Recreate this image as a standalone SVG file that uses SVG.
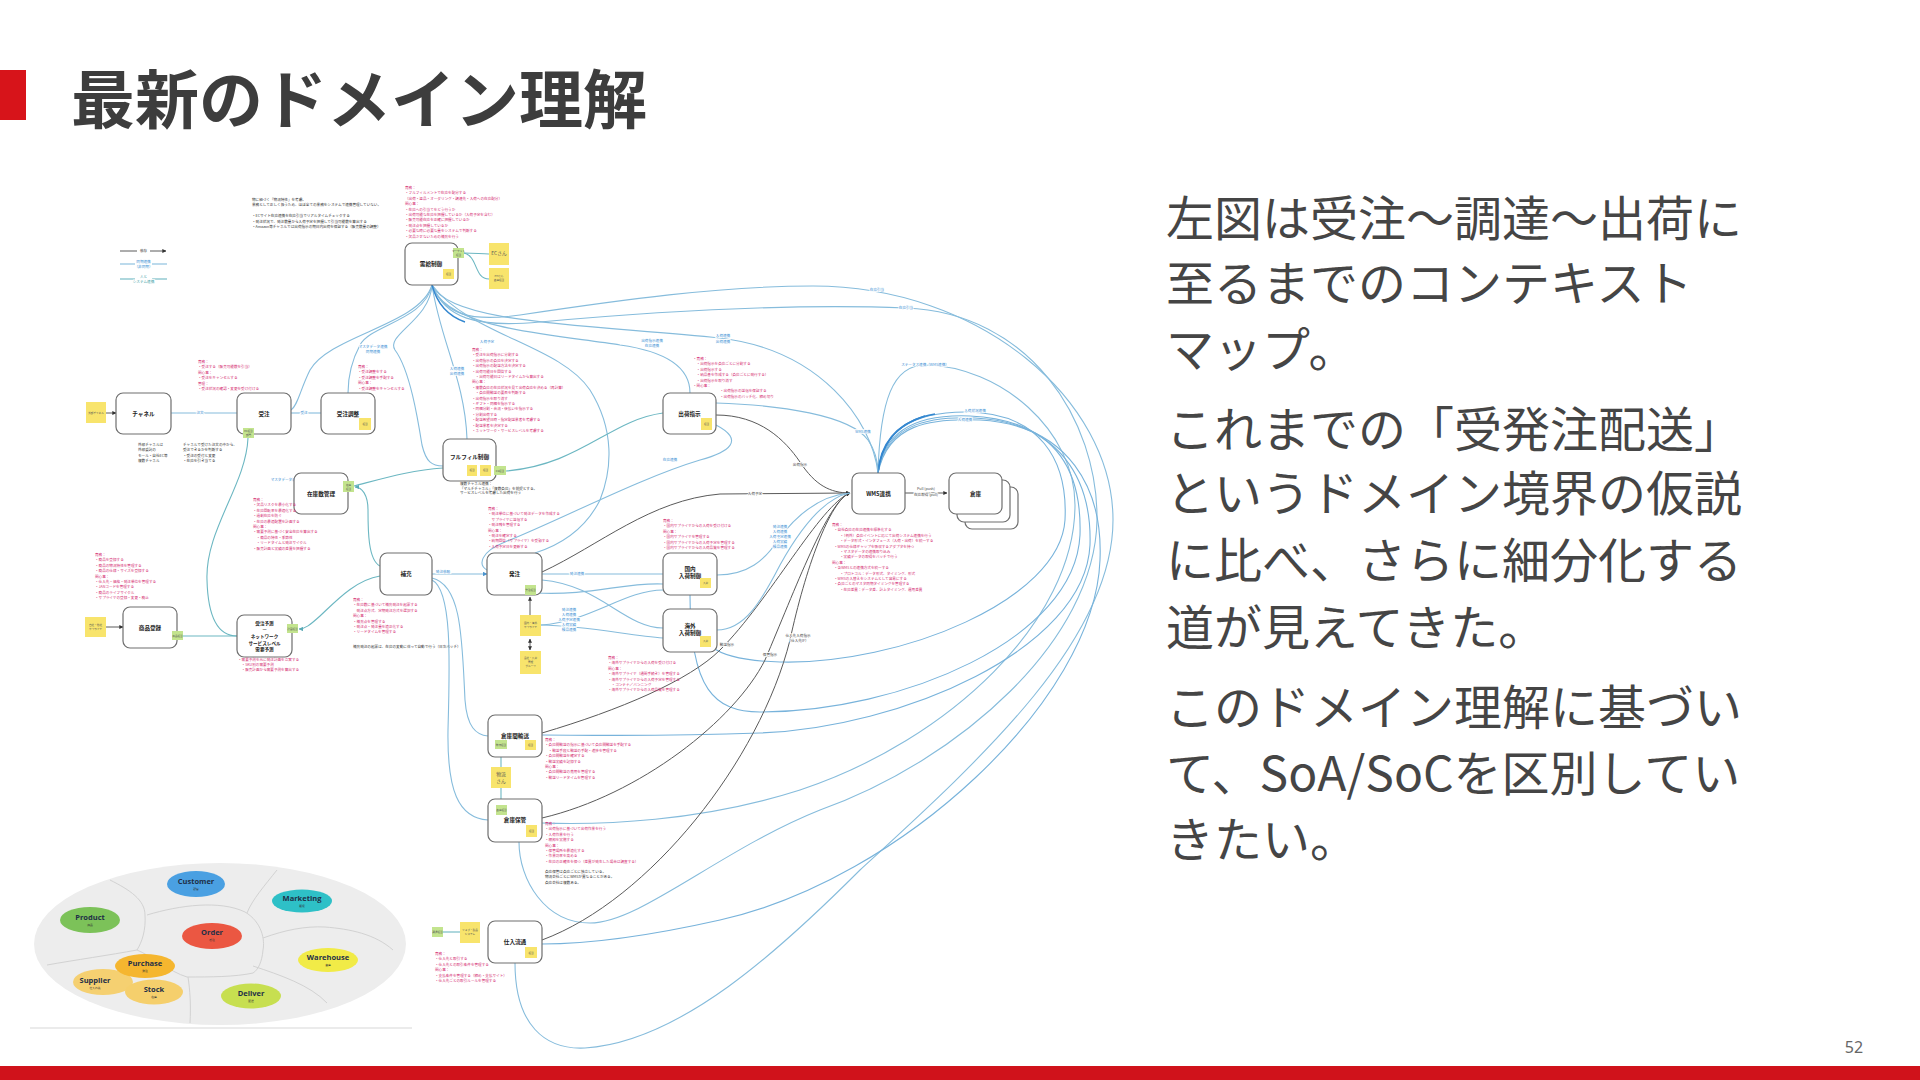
<svg xmlns="http://www.w3.org/2000/svg" width="1920" height="1080" viewBox="0 0 1920 1080">
<style>
text{font-family:"Noto Sans CJK JP","Noto Sans",sans-serif}
.title{font-size:64px;font-weight:bold;fill:#3d3d3d}
.body{font-size:48px;fill:#454545}
.box{fill:#fff;stroke:#6e6e6e;stroke-width:1.2}
.nl{font-size:5.6px;font-weight:bold;fill:#222;text-anchor:middle}
.sy{fill:#f8e46c}
.sg{fill:#c3e48e}
.st{font-size:2.6px;fill:#555;text-anchor:middle}
.pk{font-size:3.6px;fill:#d42a70}
.bk{font-size:3.6px;fill:#333}
.bl{font-size:3.6px;fill:#3b8fd4;text-anchor:middle;stroke:#fff;stroke-width:1.4px;paint-order:stroke}
.dl{font-size:3.6px;fill:#444;text-anchor:middle;stroke:#fff;stroke-width:1.4px;paint-order:stroke}
.cb{fill:none;stroke:#86bcdc;stroke-width:1.1}
.cB{fill:none;stroke:#78b3db;stroke-width:1.1}
.cH{fill:none;stroke:#3487d0;stroke-width:1.4}
.ct{fill:none;stroke:#6cb7c2;stroke-width:1.1}
.cd{fill:none;stroke:#5a5a5a;stroke-width:1}
.ov{font-family:"Open Sans",sans-serif;font-size:7.5px;font-weight:bold;fill:#1f2f47;text-anchor:middle}
.ovs{font-size:2.8px;fill:#333;text-anchor:middle}
.div{fill:none;stroke:#d2d2d2;stroke-width:1}
</style>
<defs>
<marker id="ah" viewBox="0 0 6 6" refX="5.5" refY="3" markerWidth="4" markerHeight="4" orient="auto"><path d="M0,0 L6,3 L0,6 z" fill="#333"/></marker>
<marker id="ahb" viewBox="0 0 6 6" refX="5.5" refY="3" markerWidth="4" markerHeight="4" orient="auto"><path d="M0,0 L6,3 L0,6 z" fill="#4a94cf"/></marker>
<marker id="aht" viewBox="0 0 6 6" refX="5.5" refY="3" markerWidth="4" markerHeight="4" orient="auto"><path d="M0,0 L6,3 L0,6 z" fill="#5aaab6"/></marker>
<marker id="ahs" viewBox="0 0 6 6" refX="0.5" refY="3" markerWidth="4" markerHeight="4" orient="auto"><path d="M6,0 L0,3 L6,6 z" fill="#333"/></marker>
</defs>
<rect width="1920" height="1080" fill="#fff"/>

<!-- Title -->
<g id="title">
<rect x="0" y="70" width="26" height="50" fill="#d7141a"/>
<text class="title" x="71" y="123">最新のドメイン理解</text>
</g>

<!-- Body text -->
<g id="body-text">
<text class="body" x="1166" y="236">左図は受注〜調達〜出荷に</text>
<text class="body" x="1166" y="301">至るまでのコンテキスト</text>
<text class="body" x="1166" y="367">マップ。</text>
<text class="body" x="1166" y="447">これまでの「受発注配送」</text>
<text class="body" x="1166" y="511">というドメイン境界の仮説</text>
<text class="body" x="1166" y="578">に比べ、さらに細分化する</text>
<text class="body" x="1166" y="645">道が見えてきた。</text>
<text class="body" x="1166" y="725">このドメイン理解に基づい</text>
<text class="body" x="1166" y="791">て、SoA/SoCを区別してい</text>
<text class="body" x="1166" y="857">きたい。</text>
</g>

<!-- Connectors -->
<g id="connectors">
<path class="cb" d="M171,413 L237,413"/>
<path class="cb" d="M291,413 L321,413"/>
<path class="cd" d="M106,413 L116,413" marker-end="url(#ah)"/>
<path class="cb" d="M432,285 C425,320 370,325 360,345 C352,360 348,375 348,393"/>
<path class="cb" d="M432,285 C420,325 330,335 310,370 C300,390 298,405 291,410"/>
<path class="cb" d="M432,285 C430,320 385,335 395,350 C410,370 418,420 422,445 C426,462 432,466 443,466"/>
<path class="cb" d="M432,285 C440,340 465,380 467,439"/>
<path class="cb" d="M432,285 C445,330 560,335 620,345 C670,352 690,370 690,393"/>
<path class="cb" d="M432,285 C450,325 600,325 720,338 C820,350 872,420 878,473"/>
<path class="cb" d="M432,285 C445,315 470,322 520,315 C620,300 720,286 813,286 C980,286 1113,400 1113,520 C1113,640 980,760 860,870 C780,950 680,1042 585,1048 C545,1050 515,1025 515,963"/>
<path class="cb" d="M432,285 C445,318 475,328 540,322 C650,312 780,303 906,308 C1030,313 1098,420 1097,520 C1095,640 960,760 820,810 C720,850 640,923 590,923 C545,923 519,880 519,842"/>
<path class="cb" d="M432,285 C470,335 560,345 590,390 C615,430 612,470 600,500 C585,530 560,545 535,553"/>
<path class="cH" d="M432,285 C436,300 445,315 465,322"/>
<path class="cb" d="M878,473 C880,400 893,365 925,365 C1000,366 1075,430 1075,505 C1075,620 950,740 800,790 C700,822 600,825 542,823"/>
<path class="cB" d="M878,473 C882,430 915,412 965,412 C1040,412 1068,460 1065,520 C1060,600 900,665 780,662 C745,661 722,655 712,647"/>
<path class="cB" d="M878,473 C884,428 920,414 970,416 C1055,420 1082,470 1080,535 C1075,640 900,712 760,712 C715,712 690,690 690,595"/>
<path class="cB" d="M878,473 C886,426 925,416 975,418 C1060,422 1092,480 1090,545 C1085,650 900,728 760,733 C650,737 580,735 542,735"/>
<path class="cB" d="M878,473 C888,424 930,418 980,420 C1070,425 1103,490 1100,560 C1095,700 900,880 720,920 C640,938 580,944 542,944"/>
<path class="cH" d="M878,473 C880,445 895,425 925,416"/>
<path class="cH" d="M878,473 C882,440 900,420 935,414"/>
<path class="cd" d="M716,415 C760,415 785,440 800,462 C815,485 830,493 850,493" marker-end="url(#ah)"/>
<path class="cd" d="M542,572 C600,545 650,500 720,494 L850,493" marker-end="url(#ah)"/>
<path class="cd" d="M542,733 C620,710 690,680 720,650 C770,600 820,505 850,493" marker-end="url(#ah)"/>
<path class="cd" d="M542,818 C640,795 735,720 765,660 C795,590 828,500 850,493" marker-end="url(#ah)"/>
<path class="cd" d="M542,940 C650,900 760,760 790,640 C805,570 830,500 850,493" marker-end="url(#ah)"/>
<path class="cb" d="M717,575 C748,575 765,560 778,540 C800,510 825,495 850,493"/>
<path class="cb" d="M717,630 C745,630 762,600 780,565 C805,520 828,497 850,493"/>
<path class="cb" d="M716,403 C780,405 850,415 868,440 C875,450 878,462 878,473"/>
<path class="cb" d="M716,425 C745,440 730,452 700,460 C640,478 560,520 505,542 C480,552 478,565 487,570"/>
<path class="ct" d="M663,413 C610,420 580,465 506,471"/>
<path class="cd" d="M905,493 L947,493" marker-end="url(#ah)"/>
<path class="cb" d="M432,574 L487,574" marker-end="url(#ahb)"/>
<path class="cb" d="M542,574 L663,574"/>
<path class="cb" d="M542,580 C600,585 625,628 663,628"/>
<path class="cb" d="M536,593 C590,596 625,582 663,584"/>
<path class="cb" d="M541,625 C590,622 625,590 663,590"/>
<path class="cb" d="M541,625 C590,626 630,636 663,638"/>
<path class="cd" d="M530,615 L530,597" marker-end="url(#ah)"/>
<path class="cd" d="M530,639 L530,650" marker-start="url(#ahs)" marker-end="url(#ah)"/>
<path class="ct" d="M380,566 C368,560 368,530 368,510 C368,495 362,487 355,487" marker-end="url(#aht)"/>
<path class="ct" d="M380,576 C355,580 335,602 320,616 C310,625 305,629 299,629" marker-end="url(#aht)"/>
<path class="cb" d="M432,578 C462,585 462,640 465,700 C467,727 476,735 488,736"/>
<path class="cb" d="M432,580 C452,590 450,660 448,730 C447,790 458,818 488,820"/>
<path class="ct" d="M354,486 C385,478 412,470 443,468"/>
<path class="ct" d="M248,438 C246,485 205,530 207,580 C208,620 220,636 237,636"/>
<path class="ct" d="M183,636 L237,636"/>
<path class="cd" d="M106,627 L123,627" marker-end="url(#ah)"/>
<path class="ct" d="M464,253 C476,253 480,254 489,254"/>
<path class="ct" d="M464,253 C478,256 474,279 489,279"/>
<path class="ct" d="M501,757 L501,767"/>
<path class="ct" d="M501,788 L501,805"/>
<path class="ct" d="M443,932 L460,932"/>
<!-- labels -->
<text class="bl" x="200" y="414">注文</text>
<text class="bl" x="304" y="414">受注</text>
<text class="bl" x="373" y="348">マスタデータ連携</text>
<text class="bl" x="373" y="353">同期連携</text>
<text class="bl" x="457" y="370">入荷連携</text>
<text class="bl" x="457" y="375">出荷連携</text>
<text class="bl" x="487" y="343">入荷予定</text>
<text class="bl" x="652" y="342">出荷指示連携</text>
<text class="bl" x="652" y="347">在庫連携</text>
<text class="bl" x="723" y="337">入荷連携</text>
<text class="bl" x="723" y="343">出荷連携</text>
<text class="bl" x="877" y="291">在庫引当</text>
<text class="bl" x="906" y="309">在庫引当</text>
<text class="bl" x="863" y="433">WMS連携</text>
<text class="bl" x="925" y="366">ステータス連携（WMS連携）</text>
<text class="bl" x="975" y="412">入荷状況連携</text>
<text class="bl" x="965" y="421">入荷連携</text>
<text class="bl" x="670" y="461">在庫連携</text>
<text class="bl" x="285" y="481">マスタデータ連携</text>
<text class="bl" x="443" y="573">発注依頼</text>
<text class="bl" x="577" y="575">発注連携</text>
<text class="bl" x="569" y="611">発注連携</text>
<text class="bl" x="569" y="616">入荷連携</text>
<text class="bl" x="569" y="621">入荷予定連携</text>
<text class="bl" x="569" y="626">入荷実績</text>
<text class="bl" x="569" y="631">検品連携</text>
<text class="bl" x="780" y="528">発注連携</text>
<text class="bl" x="780" y="533">入荷連携</text>
<text class="bl" x="780" y="538">入荷予定連携</text>
<text class="bl" x="780" y="543">入荷実績</text>
<text class="bl" x="780" y="548">検品連携</text>
<text class="dl" x="800" y="466">出荷指示</text>
<text class="dl" x="755" y="495">入荷予定</text>
<text class="dl" x="727" y="646">輸送指示</text>
<text class="dl" x="770" y="656">保管指示</text>
<text class="dl" x="798" y="637">仕入先入荷指示</text>
<text class="dl" x="798" y="642">（仕入先IF）</text>
<text class="dl" x="926" y="490">Pull (push)</text>
<text class="dl" x="926" y="496">在庫取得 (pull)</text>
</g>

<!-- Legend and notes -->
<g id="legend">
<path class="cd" d="M120,251 L137,251"/><path class="cd" d="M150,251 L166,251" marker-end="url(#ah)"/>
<text class="bk" x="143.5" y="252.3" text-anchor="middle">依存</text>
<path class="cb" d="M120,264 L135,264"/><path class="cb" d="M152,264 L167,264"/>
<text class="bl" x="143.5" y="263">同期連携</text>
<text class="bl" x="143.5" y="268">（非同期）</text>
<path class="ct" d="M120,279 L135,279"/><path class="ct" d="M152,279 L167,279"/>
<text class="bl" x="143.5" y="278" style="fill:#3fa3a8">人と</text>
<text class="bl" x="143.5" y="283" style="fill:#3fa3a8">システム連携</text>
</g>
<g id="note-top">
<text class="bk" x="252" y="201"><tspan x="252" dy="0">物に紐づく「物流特性」を考慮。</tspan><tspan x="252" dy="5.4">業務として正しく扱うため、ほぼ全ての業務をシステムで連携管理していない。</tspan><tspan x="252" dy="10.8">・ECサイト在庫連携を在庫引当でリアルタイムチェックする</tspan><tspan x="252" dy="5.4">・発注状況で、発注数量から入荷予定を把握して引当可能数を算出する</tspan><tspan x="252" dy="5.4">・Amazon等チャネルでは出荷指示の期日内出荷を保証する（販売数量の調整）</tspan></text>
</g>

<!-- Nodes -->
<g id="node-jukyu">
<text class="pk" x="405" y="189"><tspan x="405" dy="0">責務：</tspan><tspan x="405" dy="5.4">・フルフィルメントで在庫を配分する</tspan><tspan x="405" dy="5.4">（出荷・返品・オーダリング・調達先・入荷への在庫配分）</tspan><tspan x="405" dy="5.4">関心事：</tspan><tspan x="405" dy="5.4">・在庫への引当てをどう行うか</tspan><tspan x="405" dy="5.4">・出荷可能な在庫を把握しているか（入荷予定を含む）</tspan><tspan x="405" dy="5.4">・販売可能在庫を正確に把握しているか</tspan><tspan x="405" dy="5.4">・発注点を把握しているか</tspan><tspan x="405" dy="5.4">・必要な時に必要な量をシステムで判断する</tspan><tspan x="405" dy="5.4">・欠品させないための補充を行う</tspan></text>
<rect class="box" x="405" y="243" width="53" height="42" rx="7"/>
<text class="nl" x="431" y="266">需給制御</text>
<rect class="sg" x="453" y="248" width="11" height="10"/><text class="st" x="458.5" y="252">マーケット</text><text class="st" x="458.5" y="255.5">担当</text>
<rect class="sy" x="443" y="269" width="11" height="10"/><text class="st" x="448.5" y="275">担当</text>
<rect class="sy" x="489" y="243" width="20" height="22"/><text class="st" x="499" y="255" style="font-size:4.8px">ECさん</text>
<rect class="sy" x="489" y="268" width="20" height="21"/><text class="st" x="499" y="277">PMさん</text><text class="st" x="499" y="281">倉庫担当</text>
</g>

<g id="node-channel">
<rect class="sy" x="86" y="402" width="20" height="21"/><text class="st" x="96" y="414">外部チャネル</text>
<rect class="box" x="116" y="393" width="55" height="41" rx="7"/>
<text class="nl" x="143.5" y="415.5">チャネル</text>
<text class="bk" x="138" y="446"><tspan x="138" dy="0">外部チャネルは</tspan><tspan x="138" dy="5.4">外部委託の</tspan><tspan x="138" dy="5.4">モール・自社EC等</tspan><tspan x="138" dy="5.4">複数チャネル</tspan></text>
</g>

<g id="node-juchu">
<text class="pk" x="198" y="363"><tspan x="198" dy="0">責務：</tspan><tspan x="198" dy="5.4">・受注する（販売可能数を引当）</tspan><tspan x="198" dy="5.4">関心事：</tspan><tspan x="198" dy="5.4">・受注をキャンセルする</tspan><tspan x="198" dy="5.4">管理：</tspan><tspan x="198" dy="5.4">・受注状況の確認・変更を受け付ける</tspan></text>
<rect class="box" x="237" y="393" width="54" height="41" rx="7"/>
<text class="nl" x="264" y="415.5">受注</text>
<rect class="sg" x="243" y="428" width="11" height="10"/><text class="st" x="248.5" y="432">EC担当</text><text class="st" x="248.5" y="435.5">部門</text>
<text class="bk" x="183" y="446"><tspan x="183" dy="0">チャネルで受けた注文の中から、</tspan><tspan x="183" dy="5.4">受注できるかを判断する</tspan><tspan x="183" dy="5.4">・受注の受付と変更</tspan><tspan x="183" dy="5.4">・在庫を引き当てる</tspan></text>
</g>

<g id="node-chousei">
<text class="pk" x="358" y="368"><tspan x="358" dy="0">責務：</tspan><tspan x="358" dy="5.4">・受注調整をする</tspan><tspan x="358" dy="5.4">・受注調整を手配する</tspan><tspan x="358" dy="5.4">関心事：</tspan><tspan x="358" dy="5.4">・受注調整をキャンセルする</tspan></text>
<rect class="box" x="321" y="393" width="54" height="41" rx="7"/>
<text class="nl" x="348" y="415.5">受注調整</text>
<rect class="sy" x="359" y="418" width="12" height="12"/><text class="st" x="365" y="425">担当</text>
</g>

<g id="node-fulfil">
<text class="pk" x="472" y="351"><tspan x="472" dy="0">責務：</tspan><tspan x="472" dy="5.4">・受注を出荷指示に分割する</tspan><tspan x="472" dy="5.4">・出荷指示の倉庫を決定する</tspan><tspan x="472" dy="5.4">・出荷指示の配送方法を決定する</tspan><tspan x="472" dy="5.4">・出荷可能日を回答する</tspan><tspan x="472" dy="5.4">　・出荷可能日はリードタイムから算出する</tspan><tspan x="472" dy="5.4">関心事：</tspan><tspan x="472" dy="5.4">・複数倉庫の在庫状況を見て出荷倉庫を決める（再計算）</tspan><tspan x="472" dy="5.4">　・倉庫間輸送の要否を判断する</tspan><tspan x="472" dy="5.4">・出荷指示を取り消す</tspan><tspan x="472" dy="5.4">・ギフト・同梱を指示する</tspan><tspan x="472" dy="5.4">・同梱分割・合流・後払いを指示する</tspan><tspan x="472" dy="5.4">・分割出荷する</tspan><tspan x="472" dy="5.4">・配送希望日時・指定配送業者を考慮する</tspan><tspan x="472" dy="5.4">・配送業者を決定する</tspan><tspan x="472" dy="5.4">・ネットワーク・サービスレベルを考慮する</tspan></text>
<rect class="box" x="443" y="439" width="53" height="42" rx="7"/>
<text class="nl" x="469.5" y="459">フルフィル制御</text>
<rect class="sy" x="467" y="465" width="10" height="11"/><text class="st" x="472" y="471">担当</text>
<rect class="sy" x="480" y="465" width="11" height="11"/><text class="st" x="485.5" y="471">担当</text>
<rect class="sg" x="494" y="466" width="12" height="9"/><text class="st" x="500" y="471.5">CS担当</text>
<text class="bk" x="460" y="485"><tspan x="460" dy="0">複数チャネル連携：</tspan><tspan x="460" dy="4.6">「マルチチャネル」「複数倉庫」を前提とする。</tspan><tspan x="460" dy="4.6">サービスレベルを考慮した出荷を行う</tspan></text>
</g>

<g id="node-shukka">
<text class="pk" x="693" y="360"><tspan x="693" dy="0">・責務：</tspan><tspan x="693" dy="5.4">　・出荷指示を倉庫ごとに分割する</tspan><tspan x="693" dy="5.4">　・出荷指示する</tspan><tspan x="693" dy="5.4">　・納品書を作成する（倉庫ごとに発行する）</tspan><tspan x="693" dy="5.4">　・出荷指示を取り消す</tspan><tspan x="693" dy="5.4">・関心事：</tspan><tspan x="720" dy="5.4">・出荷指示の送信を保証する</tspan><tspan x="720" dy="5.4">・出荷指示のバッチ化、締め切り</tspan></text>
<rect class="box" x="663" y="393" width="53" height="41" rx="7"/>
<text class="nl" x="689.5" y="415.5">出荷指示</text>
<rect class="sy" x="701" y="418" width="11" height="12"/><text class="st" x="706.5" y="425">担当</text>
</g>

<g id="node-wms">
<rect class="box" x="852" y="473" width="53" height="41" rx="7"/>
<text class="nl" x="878.5" y="495.5">WMS連携</text>
<text class="pk" x="832" y="526"><tspan x="832" dy="0">責務：</tspan><tspan x="834" dy="5.4">・自社倉庫の在庫連携を標準化する</tspan><tspan x="840" dy="5.4">・（例外）倉庫イベントに応じて出荷システム連携を行う</tspan><tspan x="840" dy="5.4">・データ形式・インタフェース（入荷・出荷）を統一する</tspan><tspan x="834" dy="5.4">・WMSの仕様ギャップを吸収するアダプタを持つ</tspan><tspan x="840" dy="5.4">・マスタデータの連携取り込み</tspan><tspan x="840" dy="5.4">・実績データの取得をバッチで行う</tspan><tspan x="832" dy="5.4">関心事：</tspan><tspan x="834" dy="5.4">・各WMSとの連携方式を統一する</tspan><tspan x="840" dy="5.4">・プロトコル：データ形式、タイミング、形式</tspan><tspan x="834" dy="5.4">・WMSの入替えをシステムとして容易にする</tspan><tspan x="834" dy="5.4">・倉庫ごとのマスタ同期タイミングを管理する</tspan><tspan x="840" dy="5.4">・在庫差異：データ差、計上タイミング、運用差異</tspan></text>
</g>

<g id="node-souko">
<rect class="box" x="965" y="487" width="53" height="42" rx="7"/>
<rect class="box" x="957" y="480" width="53" height="42" rx="7"/>
<rect class="box" x="949" y="473" width="53" height="41" rx="7"/>
<text class="nl" x="975.5" y="495.5">倉庫</text>
</g>

<g id="node-zaiko">
<rect class="box" x="294" y="473" width="54" height="41" rx="7"/>
<text class="nl" x="321" y="495.5">在庫数管理</text>
<rect class="sg" x="343" y="481" width="11" height="11"/><text class="st" x="348.5" y="486">在庫</text><text class="st" x="348.5" y="489.5">担当</text>
<text class="pk" x="253" y="501"><tspan x="253" dy="0">責務：</tspan><tspan x="253" dy="5.4">・欠品リスクを最小化する</tspan><tspan x="253" dy="5.4">・在庫回転率を最適化する</tspan><tspan x="253" dy="5.4">・過剰在庫を防ぐ</tspan><tspan x="253" dy="5.4">・在庫の最適配置を計画する</tspan><tspan x="253" dy="5.4">関心事：</tspan><tspan x="253" dy="5.4">・需要予測に基づく安全在庫を算出する</tspan><tspan x="253" dy="5.4">　・商品の特性・季節性</tspan><tspan x="253" dy="5.4">　・リードタイムと発注サイクル</tspan><tspan x="253" dy="5.4">・販売計画と実績の差異を把握する</tspan></text>
</g>

<g id="node-hojuu">
<rect class="box" x="380" y="553" width="52" height="42" rx="7"/>
<text class="nl" x="406" y="576">補充</text>
<text class="pk" x="353" y="601"><tspan x="353" dy="0">責務：</tspan><tspan x="353" dy="5.4">・在庫数に基づいて補充発注を起票する</tspan><tspan x="353" dy="5.4">　発注点方式、定期発注方式を選択する</tspan><tspan x="353" dy="5.4">関心事：</tspan><tspan x="353" dy="5.4">・補充点を管理する</tspan><tspan x="353" dy="5.4">・発注点・発注量を適正化する</tspan><tspan x="353" dy="5.4">・リードタイムを管理する</tspan></text>
<text class="bk" x="353" y="648">補充発注の起票は、在庫の変動に伴って自動で行う（日次バッチ）</text>
</g>

<g id="node-hatchu">
<text class="pk" x="488" y="510"><tspan x="488" dy="0">責務：</tspan><tspan x="488" dy="5.4">・発注単位に基づいて発注データを作成する</tspan><tspan x="488" dy="5.4">　サプライヤに送信する</tspan><tspan x="488" dy="5.4">・発注残を管理する</tspan><tspan x="488" dy="5.4">関心事：</tspan><tspan x="488" dy="5.4">・発注を確定する</tspan><tspan x="488" dy="5.4">・納期回答（サプライヤ）を受領する</tspan><tspan x="488" dy="5.4">・入荷予定日を更新する</tspan></text>
<rect class="box" x="487" y="553" width="55" height="42" rx="7"/>
<text class="nl" x="514.5" y="576">発注</text>
<rect class="sg" x="525" y="585" width="11" height="10"/><text class="st" x="530.5" y="591">発注担当</text>
<rect class="sy" x="520" y="615" width="21" height="21"/><text class="st" x="530.5" y="624">国内・海外</text><text class="st" x="530.5" y="628">サプライヤ</text>
<rect class="sy" x="520" y="651" width="21" height="23"/><text class="st" x="530.5" y="659">会社・入荷</text><text class="st" x="530.5" y="663">管理</text><text class="st" x="530.5" y="667">グループ</text>
</g>

<g id="node-kokunai">
<text class="pk" x="663" y="522"><tspan x="663" dy="0">責務：</tspan><tspan x="663" dy="5.4">・国内サプライヤからの入荷を受け付ける</tspan><tspan x="663" dy="5.4">関心事：</tspan><tspan x="663" dy="5.4">・国内サプライヤを管理する</tspan><tspan x="663" dy="5.4">・国内サプライヤからの入荷予定を管理する</tspan><tspan x="663" dy="5.4">・国内サプライヤからの入荷品質を管理する</tspan></text>
<rect class="box" x="663" y="553" width="54" height="42" rx="7"/>
<text class="nl" x="690" y="571">国内</text>
<text class="nl" x="690" y="578">入荷制御</text>
<rect class="sy" x="700" y="578" width="11" height="10"/><text class="st" x="705.5" y="584">入荷</text>
</g>

<g id="node-kaigai">
<rect class="box" x="663" y="609" width="54" height="43" rx="7"/>
<text class="nl" x="690" y="628">海外</text>
<text class="nl" x="690" y="635">入荷制御</text>
<rect class="sy" x="700" y="636" width="11" height="11"/><text class="st" x="705.5" y="642">入荷</text>
<text class="pk" x="608" y="659"><tspan x="608" dy="0">責務：</tspan><tspan x="608" dy="5.4">・海外サプライヤからの入荷を受け付ける</tspan><tspan x="608" dy="5.4">関心事：</tspan><tspan x="608" dy="5.4">・海外サプライヤ（通関手続き）を管理する</tspan><tspan x="608" dy="5.4">・海外サプライヤからの入荷予定を管理する</tspan><tspan x="608" dy="5.4">　・コンテナ／バンニング</tspan><tspan x="608" dy="5.4">・海外サプライヤからの入荷品質を管理する</tspan></text>
</g>

<g id="node-shohin">
<text class="pk" x="95" y="556"><tspan x="95" dy="0">責務：</tspan><tspan x="95" dy="5.4">・商品を登録する</tspan><tspan x="95" dy="5.4">・商品の物流特性を管理する</tspan><tspan x="95" dy="5.4">・商品の仕様・サイズを登録する</tspan><tspan x="95" dy="5.4">関心事：</tspan><tspan x="95" dy="5.4">・仕入先・価格・発注単位を管理する</tspan><tspan x="95" dy="5.4">・JANコードを管理する</tspan><tspan x="95" dy="5.4">・商品のライフサイクル</tspan><tspan x="95" dy="5.4">・サプライヤの登録・変更・廃止</tspan></text>
<rect class="sy" x="85" y="617" width="21" height="20"/><text class="st" x="95.5" y="626">自社・他社</text><text class="st" x="95.5" y="630">サプライヤ</text>
<rect class="box" x="123" y="607" width="54" height="41" rx="7"/>
<text class="nl" x="150" y="630">商品登録</text>
<rect class="sg" x="172" y="631" width="11" height="9"/><text class="st" x="177.5" y="636.5">商品担当</text>
</g>

<g id="node-yosoku">
<rect class="box" x="237" y="615" width="55" height="42" rx="7"/>
<text class="nl" x="264.5" y="625" style="font-size:4.6px">受注予測</text>
<text class="nl" x="264.5" y="631" style="font-size:4.6px">—</text>
<text class="nl" x="264.5" y="638" style="font-size:4.6px">ネットワーク</text>
<text class="nl" x="264.5" y="644.5" style="font-size:4.6px">サービスレベル</text>
<text class="nl" x="264.5" y="651" style="font-size:4.6px">需要予測</text>
<rect class="sg" x="287" y="624" width="11" height="9"/><text class="st" x="292.5" y="629.5">計画担当</text>
<text class="pk" x="238" y="661"><tspan x="238" dy="0">・需要予測を元に発注計画を立案する</tspan><tspan x="238" dy="5">　・SKU別の需要予測</tspan><tspan x="238" dy="5">　・販売計画から需要予測を算出する</tspan></text>
</g>

<g id="node-kanyuso">
<rect class="box" x="488" y="715" width="54" height="42" rx="7"/>
<text class="nl" x="515" y="738">倉庫間輸送</text>
<rect class="sg" x="495" y="740" width="12" height="9"/><text class="st" x="501" y="745.5">物流担当</text>
<rect class="sy" x="525" y="740" width="11" height="10"/><text class="st" x="530.5" y="746">担当</text>
<text class="pk" x="543" y="741"><tspan x="545" dy="0">責務：</tspan><tspan x="545" dy="5.4">・倉庫間輸送の指示に基づいて倉庫間輸送を手配する</tspan><tspan x="545" dy="5.4">　・輸送手段と輸送の手配・進捗を管理する</tspan><tspan x="545" dy="5.4">・倉庫間輸送を確定する</tspan><tspan x="545" dy="5.4">・輸送実績を記録する</tspan><tspan x="545" dy="5.4">関心事：</tspan><tspan x="545" dy="5.4">・倉庫間輸送の費用を管理する</tspan><tspan x="545" dy="5.4">・輸送リードタイムを管理する</tspan></text>
<rect class="sy" x="491" y="767" width="20" height="21"/><text class="st" x="501" y="776" style="font-size:4.8px">物流</text><text class="st" x="501" y="783" style="font-size:4.8px">さん</text>
</g>

<g id="node-hokan">
<rect class="box" x="488" y="799" width="54" height="43" rx="7"/>
<text class="nl" x="515" y="822">倉庫保管</text>
<rect class="sg" x="496" y="805" width="11" height="10"/><text class="st" x="501.5" y="811">倉庫担当</text>
<rect class="sy" x="526" y="825" width="11" height="12"/><text class="st" x="531.5" y="832">担当</text>
<text class="pk" x="545" y="825"><tspan x="545" dy="0">責務：</tspan><tspan x="545" dy="5.4">・出荷指示に基づいて出荷作業を行う</tspan><tspan x="545" dy="5.4">・入荷作業を行う</tspan><tspan x="545" dy="5.4">・棚卸を実施する</tspan><tspan x="545" dy="5.4">関心事：</tspan><tspan x="545" dy="5.4">・保管場所を最適化する</tspan><tspan x="545" dy="5.4">・作業効率を高める</tspan><tspan x="545" dy="5.4">・在庫の正確性を保つ（差異が発生した場合は調査する）</tspan></text>
<text class="bk" x="545" y="873"><tspan x="545" dy="0">倉庫保管は倉庫ごとに独立している。</tspan><tspan x="545" dy="5.4">物流会社ごとにWMSが異なることがある。</tspan><tspan x="545" dy="5.4">倉庫会社は複数ある。</tspan></text>
</g>

<g id="node-shiire">
<rect class="sg" x="432" y="927" width="11" height="10"/><text class="st" x="437.5" y="933">調達担当</text>
<rect class="sy" x="460" y="922" width="20" height="21"/><text class="st" x="470" y="931">ジョブ・製品</text><text class="st" x="470" y="935">システム</text>
<rect class="box" x="488" y="921" width="54" height="42" rx="7"/>
<text class="nl" x="515" y="944">仕入流通</text>
<rect class="sy" x="525" y="947" width="12" height="11"/><text class="st" x="531" y="953.5">担当</text>
<text class="pk" x="435" y="955"><tspan x="435" dy="0">責務：</tspan><tspan x="435" dy="5.4">・仕入先と取引する</tspan><tspan x="435" dy="5.4">・仕入先との取引条件を管理する</tspan><tspan x="435" dy="5.4">関心事：</tspan><tspan x="435" dy="5.4">・支払条件を管理する（締め・支払サイト）</tspan><tspan x="435" dy="5.4">・仕入先ごとの取引ルールを管理する</tspan></text>
</g>

<!-- Domain overview ellipse -->
<g id="domain-map">
<line x1="30" y1="1028" x2="412" y2="1028" stroke="#e4e4e4" stroke-width="1.5"/>
<ellipse cx="220" cy="944" rx="186" ry="81" fill="#ededed"/>
<path class="div" d="M110,880 C130,890 145,900 145,915 C146,930 142,942 137,950 C110,955 75,960 47,965"/>
<path class="div" d="M147,915 C180,905 220,900 245,912 C262,922 265,940 263,950 C262,962 258,970 253,973 C235,977 210,977 187,977 C170,972 150,955 137,950"/>
<path class="div" d="M277,870 C265,885 252,900 247,913"/>
<path class="div" d="M263,938 C285,930 305,926 325,927 C350,929 375,934 393,950"/>
<path class="div" d="M253,966 C280,975 310,985 327,1003"/>
<path class="div" d="M188,977 C190,990 191,1005 190,1023"/>
<ellipse cx="196" cy="884" rx="29" ry="13" fill="#4aa0e2"/>
<text class="ov" x="196" y="884">Customer</text><text class="ovs" x="196" y="890">顧客</text>
<ellipse cx="302" cy="901" rx="30" ry="11.5" fill="#2ec0c7"/>
<text class="ov" x="302" y="901">Marketing</text><text class="ovs" x="302" y="907">販促</text>
<ellipse cx="90" cy="920" rx="30" ry="13" fill="#7cc259"/>
<text class="ov" x="90" y="920">Product</text><text class="ovs" x="90" y="926">商品</text>
<ellipse cx="212" cy="936" rx="30" ry="13" fill="#eb5742"/>
<text class="ov" x="212" y="935">Order</text><text class="ovs" x="212" y="941">受注</text>
<ellipse cx="328" cy="960" rx="30" ry="12" fill="#f1eb47"/>
<text class="ov" x="328" y="960">Warehouse</text><text class="ovs" x="328" y="966">倉庫</text>
<ellipse cx="103" cy="982" rx="30" ry="13" fill="#f5d071"/>
<ellipse cx="145" cy="966" rx="30" ry="12" fill="#f5b62f"/>
<ellipse cx="154" cy="992" rx="29" ry="12.5" fill="#f5cf6c"/>
<text class="ov" x="95" y="983">Supplier</text><text class="ovs" x="95" y="989">仕入れ先</text>
<text class="ov" x="145" y="966">Purchase</text><text class="ovs" x="145" y="972">発注</text>
<text class="ov" x="154" y="992">Stock</text><text class="ovs" x="154" y="998">在庫</text>
<ellipse cx="251" cy="996" rx="30" ry="12.5" fill="#c7df50"/>
<text class="ov" x="251" y="996">Deliver</text><text class="ovs" x="251" y="1002">配送</text>
</g>

<!-- Footer -->
<g id="footer">
<text x="1854" y="1053" font-size="16" fill="#666" text-anchor="middle" style="font-family:'Noto Sans',sans-serif">52</text>
<rect x="0" y="1066" width="1920" height="14" fill="#d0121b"/>
</g>
</svg>
